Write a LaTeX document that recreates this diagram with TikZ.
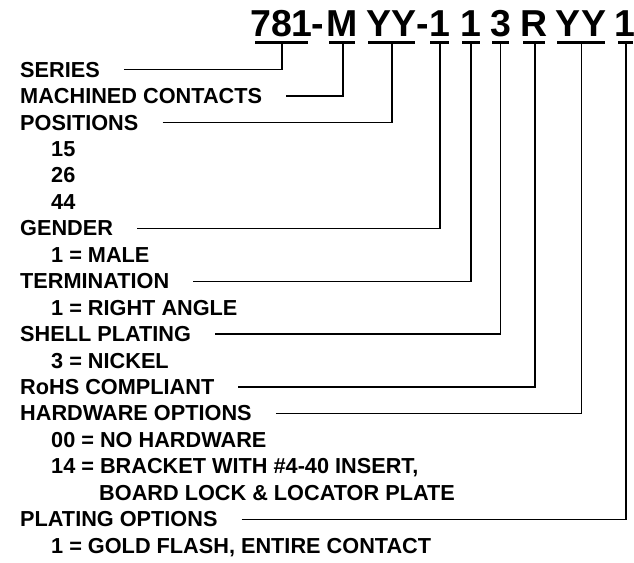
\documentclass[tikz,border=0pt]{standalone}
\usepackage{fontspec}
\setmainfont{Liberation Sans}
\begin{document}
\begin{tikzpicture}[x=1pt,y=-1pt,
  lbl/.style={anchor=base west,inner sep=0pt,font=\fontsize{21.7}{25}\selectfont\bfseries},
  pn/.style={anchor=base,inner sep=0pt,font=\fontsize{37.5}{40}\selectfont\bfseries},
  uline/.style={line width=3pt},
  lead/.style={line width=1.3pt}]
\useasboundingbox (0,0) rectangle (634,562);
% part number
\node[pn] (p0) at (281.5,36.7) {781};
\node[pn] (h0) at (317.5,36.7) {-};
\node[pn] (p1) at (342,36.7) {M};
\node[pn] (p2) at (391.5,36.7) {YY};
\node[pn] (h1) at (422.5,36.7) {-};
\node[pn] (p3) at (439.5,36.7) {1};
\node[pn] (p4) at (471,36.7) {1};
\node[pn] (p5) at (500.5,36.7) {3};
\node[pn] (p6) at (534,36.7) {R};
\node[pn] (p7) at (581,36.7) {YY};
\node[pn] (p8) at (625,36.7) {1};
% underlines
\draw[uline] (255,42.3) -- (308,42.3);
\draw[uline] (329,42.3) -- (355,42.3);
\draw[uline] (368,42.3) -- (415,42.3);
\draw[uline] (430,42.3) -- (449,42.3);
\draw[uline] (462,42.3) -- (480,42.3);
\draw[uline] (492,42.3) -- (509,42.3);
\draw[uline] (523,42.3) -- (545,42.3);
\draw[uline] (557,42.3) -- (605,42.3);
\draw[uline] (618,42.3) -- (633,42.3);
\coordinate (u0) at (282,43.5);
\coordinate (u1) at (343,43.5);
\coordinate (u2) at (392,43.5);
\coordinate (u3) at (440,43.5);
\coordinate (u4) at (471,43.5);
\coordinate (u5) at (500.5,43.5);
\coordinate (u6) at (535,43.5);
\coordinate (u7) at (581.5,43.5);
\coordinate (u8) at (626,43.5);
% labels
\node[lbl] (s0) at (20,77.1) {SERIES};
\node[lbl] (s1) at (20,103.55) {MACHINED CONTACTS};
\node[lbl] (s2) at (20,130.0) {POSITIONS};
\node[lbl] (t3) at (51,156.45) {15};
\node[lbl] (t4) at (51,182.9) {26};
\node[lbl] (t5) at (51,209.35) {44};
\node[lbl] (s3) at (20,235.8) {GENDER};
\node[lbl] (t7) at (51,262.25) {1 = MALE};
\node[lbl] (s4) at (20,288.7) {TERMINATION};
\node[lbl] (t9) at (51,315.15) {1 = RIGHT ANGLE};
\node[lbl] (s5) at (20,341.6) {SHELL PLATING};
\node[lbl] (t11) at (51,368.05) {3 = NICKEL};
\node[lbl] (s6) at (20,394.5) {RoHS COMPLIANT};
\node[lbl] (s7) at (20,420.95) {HARDWARE OPTIONS};
\node[lbl] (t14) at (51,447.4) {00 = NO HARDWARE};
\node[lbl] (t15) at (51,473.85) {14 = BRACKET WITH \#4-40 INSERT,};
\node[lbl] (t16) at (99,500.3) {BOARD LOCK \& LOCATOR PLATE};
\node[lbl] (s8) at (20,526.75) {PLATING OPTIONS};
\node[lbl] (t18) at (51,553.2) {1 = GOLD FLASH, ENTIRE CONTACT};
% leaders
\foreach \i in {0,...,8}{
  \draw[lead] ([xshift=24pt]s\i.east) -| (u\i);
}
\end{tikzpicture}
\end{document}
